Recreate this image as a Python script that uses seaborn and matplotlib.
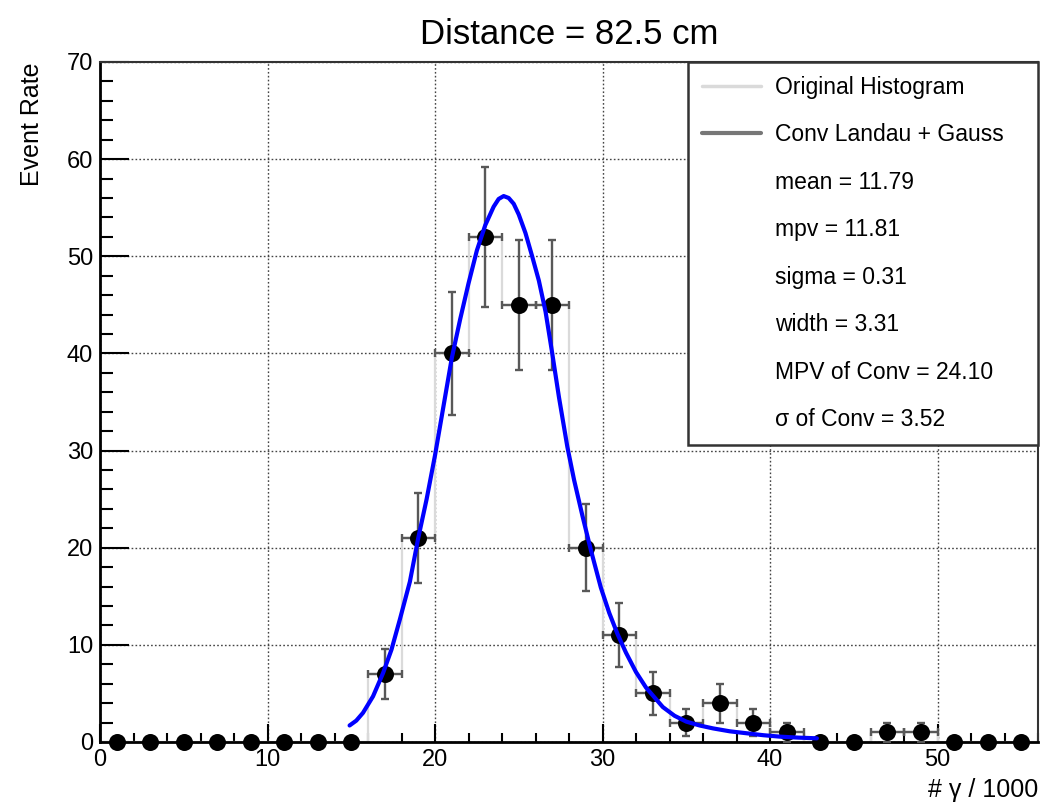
import numpy as np
import pandas as pd
import matplotlib
matplotlib.use("Agg")
import matplotlib.pyplot as plt
from matplotlib.lines import Line2D
from matplotlib.ticker import MultipleLocator
import seaborn as sns

# ---- data ----
bin_centers = [1, 3, 5, 7, 9, 11, 13, 15, 17, 19, 21, 23, 25, 27, 29, 31, 33, 35,
               37, 39, 41, 43, 45, 47, 49, 51, 53, 55]
counts = [0, 0, 0, 0, 0, 0, 0, 0, 7, 21, 40, 52, 45, 45, 20, 11, 5, 2,
          4, 2, 1, 0, 0, 1, 1, 0, 0, 0]
count_err = [0, 0, 0, 0, 0, 0, 0, 0, 2.6, 4.6, 6.3, 7.2, 6.7, 6.7, 4.5, 3.3, 2.2, 1.4,
             2.0, 1.4, 1.0, 0, 0, 1.0, 1.0, 0, 0, 0]
bin_half_width = 1.0
bin_edges = [0, 2, 4, 6, 8, 10, 12, 14, 16, 18, 20, 22, 24, 26, 28, 30, 32, 34, 36,
             38, 40, 42, 44, 46, 48, 50, 52, 54, 56]

fit_x = [14.9, 15.3, 15.7, 16.3, 16.9, 17.4, 17.9, 18.5, 19.0, 19.5, 20.0, 20.5,
         21.0, 21.5, 22.0, 22.5, 23.0, 23.5, 23.8, 24.1, 24.4, 24.7, 25.0, 25.4,
         25.8, 26.2, 26.6, 27.0, 27.4, 27.9, 28.3, 28.8, 29.3, 29.9, 30.4, 30.9,
         31.4, 32.0, 32.6, 33.0, 33.6, 34.3, 35.0, 35.8, 36.6, 37.6, 38.6, 39.6,
         40.6, 41.7, 42.8]
fit_y = [1.7, 2.2, 3.0, 4.7, 7.1, 9.5, 12.6, 16.5, 21.0, 25.0, 29.5, 34.5,
         39.5, 43.5, 47.2, 50.6, 53.2, 55.1, 55.9, 56.2, 56.0, 55.4, 54.3, 52.4,
         50.0, 47.5, 44.3, 40.0, 35.5, 30.4, 27.0, 23.3, 19.8, 15.9, 13.3, 11.1,
         9.2, 7.2, 5.6, 4.8, 3.6, 2.7, 2.1, 1.7, 1.4, 1.1, 0.9, 0.7,
         0.55, 0.45, 0.38]

legend_labels = ["Original Histogram", "Conv Landau + Gauss", "mean = 11.79",
                 "mpv = 11.81", "sigma = 0.31", "width = 3.31",
                 "MPV of Conv = 24.10", "\u03c3 of Conv = 3.52"]

title = "Distance = 82.5 cm"
xlabel = "# \u03b3 / 1000"
ylabel = "Event Rate"

# ---- style ----
sns.set_theme(style="white")
plt.rcParams["font.family"] = ["Liberation Sans", "DejaVu Sans"]
plt.rcParams["text.color"] = "black"
plt.rcParams["axes.labelcolor"] = "black"
plt.rcParams["xtick.color"] = "black"
plt.rcParams["ytick.color"] = "black"

fig = plt.figure(figsize=(10.48, 8.09), dpi=100)
ax = fig.add_axes([100 / 1048, 1 - 742 / 809, 938 / 1048, 680 / 809])

df = pd.DataFrame({"x": bin_centers, "n": counts, "err": count_err})
nz = df[df["n"] > 0]

# original histogram (light grey steps)
sns.histplot(x=df["x"], weights=df["n"], bins=bin_edges, element="step", fill=False,
             color="#dadada", linewidth=1.6, ax=ax, zorder=1)

# error bars
ax.errorbar(nz["x"], nz["n"], yerr=nz["err"], xerr=bin_half_width, fmt="none",
            ecolor="#585858", elinewidth=1.7, capsize=3, capthick=1.7, zorder=3)

# points
sns.scatterplot(x="x", y="n", data=df, color="black", s=150, edgecolor="black",
                linewidth=0, ax=ax, zorder=4, clip_on=False)

# fit curve
sns.lineplot(x=fit_x, y=fit_y, sort=False, color="#0000ff", linewidth=3.0, ax=ax,
             zorder=5)

ax.set_xlim(0, 56)
ax.set_ylim(0, 70)
ax.xaxis.set_major_locator(MultipleLocator(10))
ax.xaxis.set_minor_locator(MultipleLocator(2))
ax.yaxis.set_major_locator(MultipleLocator(10))
ax.yaxis.set_minor_locator(MultipleLocator(2))

ax.grid(True, which="major", color="#444444", linestyle=(0, (1.2, 1.6)), linewidth=1.0)
ax.set_axisbelow(True)

ax.tick_params(axis="both", which="both", direction="in", top=False, right=False,
               color="black", labelcolor="black", width=1.5, labelsize=17)
ax.tick_params(axis="x", which="major", length=13, pad=5)
ax.tick_params(axis="x", which="minor", length=6.5)
ax.tick_params(axis="y", which="major", length=21, pad=5)
ax.tick_params(axis="y", which="minor", length=9.5)
ax.tick_params(axis="both", which="both", bottom=True, left=True)

for side in ["left", "bottom"]:
    ax.spines[side].set_color("black")
    ax.spines[side].set_linewidth(2.0)
for side in ["top", "right"]:
    ax.spines[side].set_color("#333333")
    ax.spines[side].set_linewidth(1.5)

ax.set_title(title, fontsize=25, pad=13, color="black")
ax.set_xlabel(xlabel, fontsize=18, loc="right", color="black")
ax.set_ylabel(ylabel, fontsize=18, loc="top", color="black")
ax.xaxis.set_label_coords(1.0, -0.053)
ax.yaxis.label.set_va("center")
ax.yaxis.set_label_coords(-0.072, 1.0)

handles = [Line2D([], [], color="#dadada", linewidth=2.5),
           Line2D([], [], color="#777777", linewidth=3)]
handles += [Line2D([], [], color="none") for _ in legend_labels[2:]]
leg = ax.legend(handles, legend_labels, loc="upper left",
                bbox_to_anchor=(588 / 938, 0.0, 350 / 938, 1.0), mode="expand",
                borderaxespad=0, fontsize=16.5, frameon=True, fancybox=False,
                edgecolor="#333333", handlelength=2.6, handletextpad=0.6,
                labelspacing=1.07, borderpad=0.6, framealpha=1)
leg.get_frame().set_linewidth(1.8)
for t in leg.get_texts():
    t.set_color("black")
leg.set_zorder(10)

fig.savefig("out.png", dpi=100)
